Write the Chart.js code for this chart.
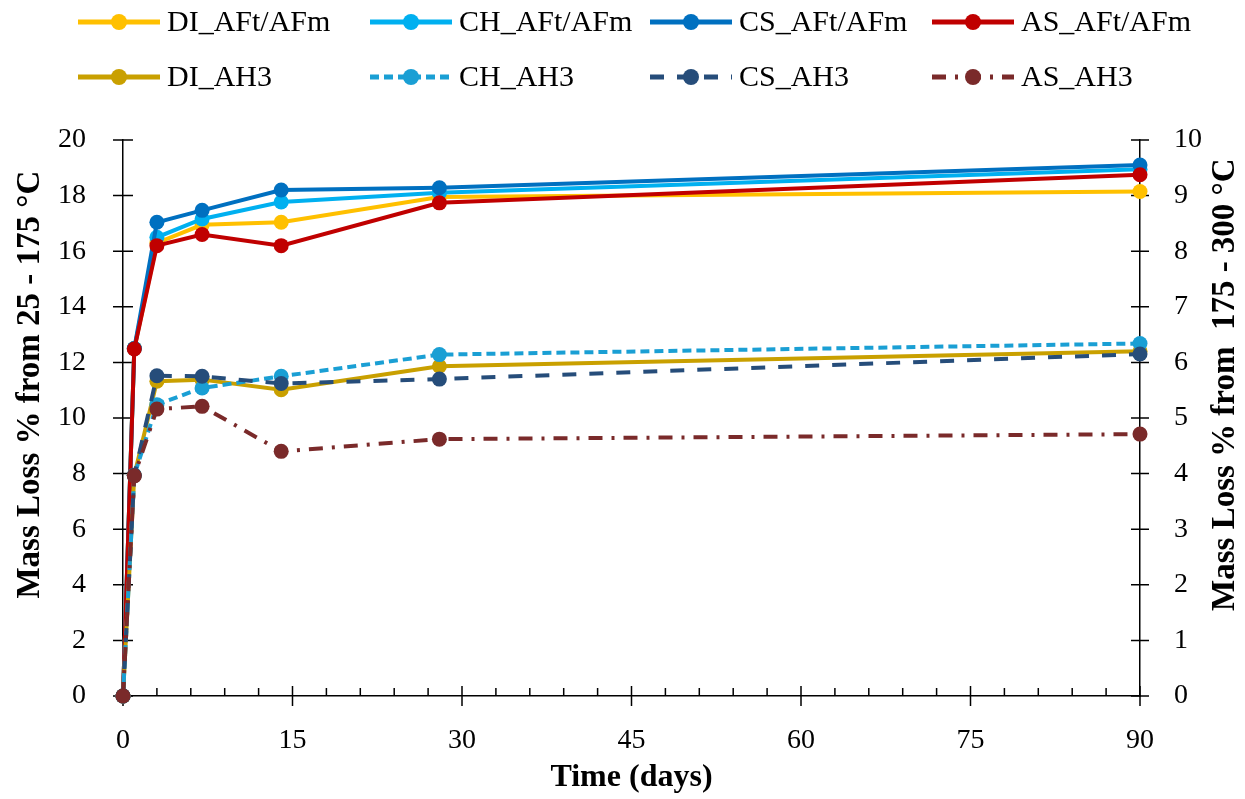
<!DOCTYPE html>
<html>
<head>
<meta charset="utf-8">
<script src="https://cdn.jsdelivr.net/npm/chart.js@4/dist/chart.umd.min.js"></script>
<style>
    html, body { margin: 0; padding: 0; background: #fff; }
    #wrap { width: 1245px; height: 799px; position: relative; }
</style>
</head>
<body>
<div id="wrap"><canvas id="chart"></canvas></div>
<script>
// Time in days (x values)
const days = [0, 1, 3, 7, 14, 28, 90];

// AFt/AFm - left axis (mass loss % from 25 - 175 °C)
const diAFt = [0, 12.5, 16.3, 16.95, 17.04, 17.95, 18.15];
const chAFt = [0, 12.5, 16.5, 17.16, 17.77, 18.1, 18.95];
const csAFt = [0, 12.5, 17.04, 17.47, 18.2, 18.28, 19.1];
const asAFt = [0, 12.48, 16.2, 16.6, 16.2, 17.74, 18.75];

// AH3 - right axis (mass loss % from 175 - 300 °C)
const diAH3 = [0, 3.97, 5.66, 5.69, 5.51, 5.93, 6.2];
const chAH3 = [0, 3.97, 5.24, 5.54, 5.75, 6.14, 6.34];
const csAH3 = [0, 3.97, 5.76, 5.75, 5.62, 5.70, 6.15];
const asAH3 = [0, 3.96, 5.16, 5.21, 4.40, 4.62, 4.71];

const seriesNames = ['DI_AFt/AFm', 'CH_AFt/AFm', 'CS_AFt/AFm', 'AS_AFt/AFm', 'DI_AH3', 'CH_AH3', 'CS_AH3', 'AS_AH3'];
const seriesValues = [diAFt, chAFt, csAFt, asAFt, diAH3, chAH3, csAH3, asAH3];
const seriesColors = ['#FFC000', '#00B0F0', '#0070C0', '#C00000', '#C9A000', '#1A9FD4', '#264D7A', '#7A2A2A'];
const seriesDash = [[], [], [], [], [], [9, 5], [14, 13], [14, 9, 3, 9]];
const seriesAxis = ['y', 'y', 'y', 'y', 'y2', 'y2', 'y2', 'y2'];

const FONT = '"Liberation Serif", "Times New Roman", serif';

const datasets = seriesNames.map((name, i) => ({
    label: name,
    data: days.map((d, j) => ({ x: d, y: seriesValues[i][j] })),
    yAxisID: seriesAxis[i],
    borderColor: seriesColors[i],
    backgroundColor: seriesColors[i],
    borderWidth: 4,
    borderDash: seriesDash[i],
    pointRadius: 7.5,
    pointBorderWidth: 0,
    pointBackgroundColor: seriesColors[i],
    tension: 0,
    clip: false,
    order: seriesNames.length - i  // later series drawn on top, like Excel
}));

// ticks crossing the axes + minor ticks on time axis, drawn under the data
const axisTicks = {
    id: 'axisTicks',
    beforeDatasetsDraw(chart) {
        const { ctx, chartArea, scales } = chart;
        ctx.save();
        ctx.strokeStyle = '#000';
        ctx.lineWidth = 1.5;
        ctx.beginPath();
        for (let v = 0; v <= 90; v += 3) {
            const px = scales.x.getPixelForValue(v);
            if (v % 15 === 0) {
                ctx.moveTo(px, chartArea.bottom - 10);
                ctx.lineTo(px, chartArea.bottom + 10);
            } else {
                ctx.moveTo(px, chartArea.bottom - 8);
                ctx.lineTo(px, chartArea.bottom);
            }
        }
        scales.y.ticks.forEach(t => {
            const py = scales.y.getPixelForValue(t.value);
            ctx.moveTo(chartArea.left - 10, py);
            ctx.lineTo(chartArea.left + 10, py);
        });
        scales.y2.ticks.forEach(t => {
            const py = scales.y2.getPixelForValue(t.value);
            ctx.moveTo(chartArea.right - 9, py);
            ctx.lineTo(chartArea.right + 9, py);
        });
        ctx.stroke();
        ctx.restore();
    }
};

// axis titles and the two-row legend
const decor = {
    id: 'decor',
    afterDraw(chart) {
        const { ctx, chartArea } = chart;
        const midY = chartArea.top + (chartArea.bottom - chartArea.top) * 0.44;
        ctx.save();
        ctx.fillStyle = '#000';
        ctx.textAlign = 'center';
        ctx.textBaseline = 'middle';
        ctx.font = 'bold 33px ' + FONT;

        ctx.save();
        ctx.translate(30, midY);
        ctx.rotate(-Math.PI / 2);
        ctx.fillText('Mass Loss % from 25 - 175 \u00B0C', 0, 0);
        ctx.restore();

        ctx.save();
        ctx.translate(chart.width - 20, midY);
        ctx.rotate(-Math.PI / 2);
        ctx.fillText('Mass Loss % from  175 - 300 \u00B0C', 0, 0);
        ctx.restore();

        ctx.font = 'bold 32px ' + FONT;
        ctx.fillText('Time (days)', (chartArea.left + chartArea.right) / 2, chart.height - 21);

        // legend
        const cols = [78, 370, 650, 932];
        const rows = [22, 77];
        ctx.font = '30px ' + FONT;
        ctx.textAlign = 'left';
        chart.data.datasets.forEach((ds, i) => {
            const x0 = cols[i % 4];
            const y0 = rows[Math.floor(i / 4)];
            ctx.strokeStyle = ds.borderColor;
            ctx.lineWidth = 5;
            ctx.setLineDash(ds.borderDash);
            ctx.beginPath();
            ctx.moveTo(x0, y0);
            ctx.lineTo(x0 + 82, y0);
            ctx.stroke();
            ctx.setLineDash([]);
            ctx.fillStyle = ds.borderColor;
            ctx.beginPath();
            ctx.arc(x0 + 41, y0, 8, 0, Math.PI * 2);
            ctx.fill();
            ctx.fillStyle = '#000';
            ctx.fillText(ds.label, x0 + 89, y0 + 1);
        });
        ctx.restore();
    }
};

const tickFont = { family: FONT, size: 28 };

new Chart(document.getElementById('chart'), {
    type: 'line',
    data: { datasets },
    options: {
        responsive: true,
        maintainAspectRatio: false,
        animation: false,
        layout: { padding: { top: 140, left: 0, right: 0, bottom: 0 } },
        plugins: { legend: { display: false }, tooltip: { enabled: false } },
        scales: {
            x: {
                type: 'linear', min: 0, max: 90,
                ticks: { stepSize: 15, color: '#000', font: tickFont, padding: 20, maxRotation: 0 },
                grid: { display: false },
                border: { display: true, color: '#000', width: 1.5 },
                afterFit: s => { s.height = 103; }
            },
            y: {
                position: 'left', min: 0, max: 20,
                ticks: { stepSize: 2, color: '#000', font: tickFont, padding: 29 },
                grid: { display: false },
                border: { display: true, color: '#000', width: 1.5 },
                afterFit: s => { s.width = 123; }
            },
            y2: {
                position: 'right', min: 0, max: 10,
                ticks: { stepSize: 1, color: '#000', font: tickFont, padding: 26 },
                grid: { display: false },
                border: { display: true, color: '#000', width: 1.5 },
                afterFit: s => { s.width = 105; }
            }
        }
    },
    plugins: [axisTicks, decor]
});
</script>
</body>
</html>
